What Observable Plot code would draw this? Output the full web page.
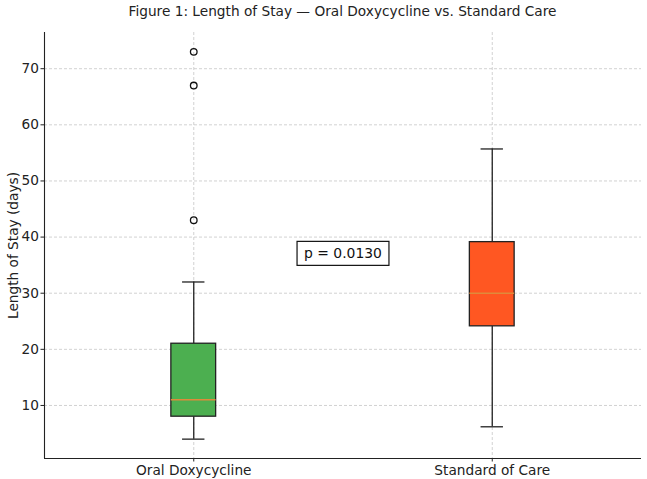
<!DOCTYPE html>
<html>
<head>
<meta charset="utf-8">
<script src="https://cdn.jsdelivr.net/npm/d3@7"></script>
<script src="https://cdn.jsdelivr.net/npm/@observablehq/plot@0.6"></script>
<style>
  body { margin: 0; background: #fff; font-family: "DejaVu Sans", sans-serif; }
  #fig { position: relative; width: 647px; height: 479px; background: #fff; }
  #title { position: absolute; left: 44px; width: 597px; top: 3px; text-align: center;
           font-size: 13.7px; color: #222; white-space: nowrap; }
  #chart { position: absolute; left: 0; top: 24px; }
</style>
</head>
<body>
<div id="fig">
  <div id="title">Figure 1: Length of Stay — Oral Doxycycline vs. Standard Care</div>
  <div id="chart"></div>
</div>
<script>
// Box-plot summaries for each group (days)
const groups = ["Oral Doxycycline", "Standard of Care"];
const positions = [1, 2];
const whiskerLow = [4, 6.2];
const q1 = [8, 24.1];
const median = [11, 30];
const q3 = [21, 39.1];
const whiskerHigh = [32, 55.7];
const boxColors = ["#4caf50", "#ff5722"];

// Points beyond the whiskers
const outlierGroup = [0, 0, 0];
const outlierValues = [43, 67, 73];

// Significance annotation
const pLabel = "p = 0.0130";
const pLabelX = 1.5;
const pLabelY = 37;

const yTicks = [10, 20, 30, 40, 50, 60, 70];
const yLabel = "Length of Stay (days)";

const boxes = groups.map((g, i) => ({
  group: g, pos: positions[i], lo: whiskerLow[i], q1: q1[i], med: median[i],
  q3: q3[i], hi: whiskerHigh[i], fill: boxColors[i]
}));
const outliers = outlierValues.map((v, i) => ({ pos: positions[outlierGroup[i]], v }));

const halfBox = 0.075, halfCap = 0.0375;
const ink = "#222";
const fs = 13.7;
const gridStyle = { stroke: "#b8b8b8", strokeOpacity: 0.8, strokeDasharray: "3,2", strokeWidth: 0.8 };

const chart = Plot.plot({
  width: 647,
  height: 455,
  marginTop: 8,
  marginBottom: 21,
  marginLeft: 44,
  marginRight: 6,
  style: { fontFamily: "DejaVu Sans, sans-serif", fontSize: fs + "px", color: ink, background: "white", overflow: "visible" },
  x: { domain: [0.5, 2.5] },
  y: { domain: [0.55, 76.45] },
  color: { type: "identity" },
  marks: [
    Plot.gridY(yTicks, gridStyle),
    Plot.gridX(positions, gridStyle),
    // whiskers and caps
    Plot.ruleX(boxes, { x: "pos", y1: "lo", y2: "q1", stroke: ink, strokeWidth: 1.3 }),
    Plot.ruleX(boxes, { x: "pos", y1: "q3", y2: "hi", stroke: ink, strokeWidth: 1.3 }),
    Plot.ruleY(boxes, { y: "lo", x1: d => d.pos - halfCap, x2: d => d.pos + halfCap, stroke: ink, strokeWidth: 1.3 }),
    Plot.ruleY(boxes, { y: "hi", x1: d => d.pos - halfCap, x2: d => d.pos + halfCap, stroke: ink, strokeWidth: 1.3 }),
    // boxes
    Plot.rect(boxes, { x1: d => d.pos - halfBox, x2: d => d.pos + halfBox, y1: "q1", y2: "q3",
                       fill: "fill", stroke: ink, strokeWidth: 1.3 }),
    // medians
    Plot.ruleY(boxes, { y: "med", x1: d => d.pos - halfBox, x2: d => d.pos + halfBox, stroke: "#e08a3a", strokeWidth: 1.5 }),
    // outliers
    Plot.dot(outliers, { x: "pos", y: "v", r: 3.3, fill: "none", stroke: "#111", strokeWidth: 1.3 }),
    // p-value annotation
    Plot.text([{ x: pLabelX, y: pLabelY, t: pLabel }], { x: "x", y: "y", text: "t", fontSize: 13.9, fill: "#111" }),
    // axes
    Plot.axisY(yTicks, { tickSize: 3.5, tickPadding: 2, label: null, stroke: ink, fill: ink }),
    Plot.axisX(positions, { tickSize: 3.5, tickPadding: 3, label: null, tickFormat: d => groups[d - 1], stroke: ink, fill: ink }),
    Plot.ruleX([0.5], { stroke: ink, strokeWidth: 1.1 }),
    Plot.ruleY([0.55], { stroke: ink, strokeWidth: 1.1 }),
    Plot.text([yLabel], { frameAnchor: "left", textAnchor: "middle", rotate: -90, dx: -31, fontSize: fs, fill: ink })
  ]
});

document.getElementById("chart").append(chart);

// white framed box behind the p-value text
for (const t of chart.querySelectorAll("text")) {
  if (t.textContent !== pLabel) continue;
  const bb = t.getBBox();
  const padX = 7, padY = 4;
  const r = document.createElementNS("http://www.w3.org/2000/svg", "rect");
  r.setAttribute("x", bb.x - padX);
  r.setAttribute("y", bb.y - padY);
  r.setAttribute("width", bb.width + 2 * padX);
  r.setAttribute("height", bb.height + 2 * padY);
  r.setAttribute("fill", "white");
  r.setAttribute("stroke", "#111");
  r.setAttribute("stroke-width", 1.2);
  const tr = t.getAttribute("transform");
  if (tr) r.setAttribute("transform", tr);
  t.parentNode.insertBefore(r, t);
}
</script>
</body>
</html>
